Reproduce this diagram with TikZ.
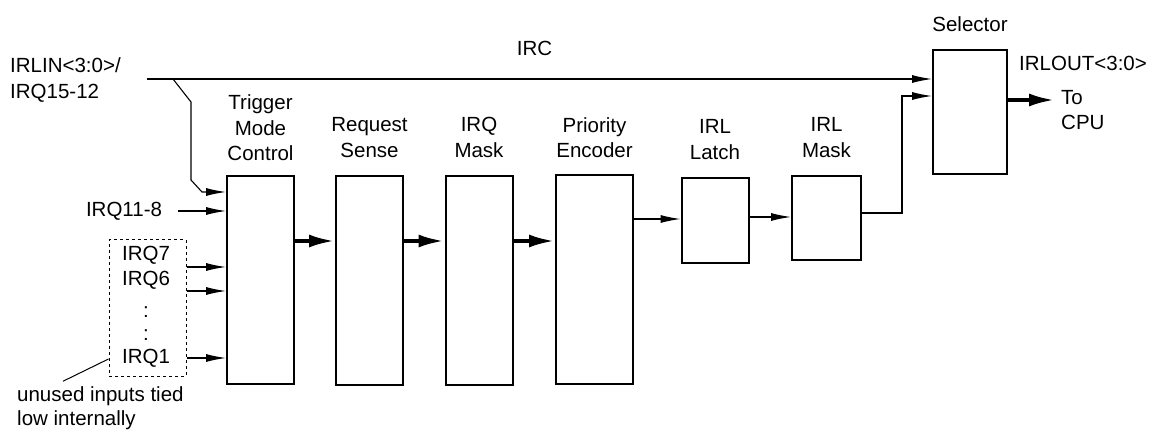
\documentclass[tikz,border=0pt]{standalone}
\usepackage{fontspec}
\setmainfont{Liberation Sans}
\usetikzlibrary{arrows.meta}

\begin{document}
\begin{tikzpicture}[x=1pt,y=-1pt,
  font=\fontsize{20.5}{25.5}\selectfont,
  box/.style={draw,line width=2pt,inner sep=0pt,minimum width=67,minimum height=208},
  lbl/.style={inner sep=0pt,align=center},
  arr/.style={line width=1.1pt,-{Latex[length=20pt,width=8pt]}},
  fatarr/.style={line width=4pt,-{Latex[length=26pt,width=13pt]}}]
  \useasboundingbox (0,0) rectangle (1151,430);

  % Draw the blocks
  \node[box] (tmc) at (260.5,280) {};
  \node[box] (sense) at (369.5,280.5) {};
  \node[box] (irqmask) at (479,280.5) {};
  \node[box,minimum width=77] (enc) at (594.5,279.5) {};
  \node[box,minimum height=85] (latch) at (715,220.5) {};
  \node[box,minimum width=69,minimum height=84] (irlmask) at (826.5,218) {};
  \node[box,minimum width=74,minimum height=124] (sel) at (970,112) {};

  % Labels above the blocks
  \node[lbl] (tmc-lbl) at (260.5,128) {Trigger\\Mode\\Control};
  \foreach \n/\x/\t in {sense/369.5/{Request\\Sense},irqmask/479/{IRQ\\Mask},enc/594.5/{Priority\\Encoder}}{
    \node[lbl] (\n-lbl) at (\x,137.5) {\t};
  }
  \node[lbl] (latch-lbl) at (715,139.5) {IRL\\Latch};
  \node[lbl] (irlmask-lbl) at (826.5,137.5) {IRL\\Mask};
  \node[lbl] (sel-lbl) at (970,24) {Selector};

  % Inputs on the left
  \node[lbl,anchor=west,align=left] (irlin) at (10,80) {IRLIN<3:0>/\\IRQ15-12};
  \node[lbl] (irc) at (534.5,48) {IRC};
  \node[lbl] (irq8) at (124,211) {IRQ11-8};
  \node[draw,line width=1pt,dash pattern=on 3pt off 3pt,minimum width=77,minimum height=136] (unused) at (147.5,308) {};
  \foreach \n/\y/\t in {irq7/255/IRQ7,irq6/280/IRQ6,dota/312/:,dotb/335/:,irq1/358/IRQ1}{
    \node[lbl] (\n) at (146,\y) {\t};
  }
  \node[lbl,anchor=west,align=left,font=\fontsize{20.5}{24}\selectfont] (note) at (17,408) {unused inputs tied\\low internally};
  \draw[line width=1pt] ([shift={(46pt,5pt)}]note.north west) -- (unused.west |- 0,359);

  % Outputs on the right
  \node[lbl,anchor=west] (irlout) at (1019,63) {IRLOUT<3:0>};
  \node[lbl,anchor=west,align=left] (cpu) at (1061,110) {To\\CPU};
  \coordinate (tocpu) at (1055,100);

  % Connections
  \coordinate (ircstart) at (147,79);
  \coordinate (tap) at (173,79);
  \draw[arr] (ircstart) -- (sel.west |- 0,79);
  \draw[arr] (tap) -- ++(18,23) -- ++(0,78) -- ++(11,12) -- (tmc.west |- 0,192);
  \draw[arr] ([xshift=16pt]irq8.east) -- (irq8.east -| tmc.west);
  \foreach \y in {267,291,358}{
    \draw[arr] (unused.east |- 0,\y) -- (tmc.west |- 0,\y);
  }
  \foreach \a/\b in {tmc/sense,sense/irqmask,irqmask/enc}{
    \draw[fatarr] (\a.east |- 0,241) -- (\b.west |- 0,241);
  }
  \draw[arr] (enc.east |- 0,219) -- (latch.west |- 0,219);
  \draw[arr] (latch.east |- 0,217) -- (irlmask.west |- 0,217);
  \draw[arr] (irlmask.east |- 0,213) -- (902,213) |- (sel.west |- 0,96);
  \draw[fatarr] (sel.east |- 0,100) -- (tocpu);

\end{tikzpicture}
\end{document}
